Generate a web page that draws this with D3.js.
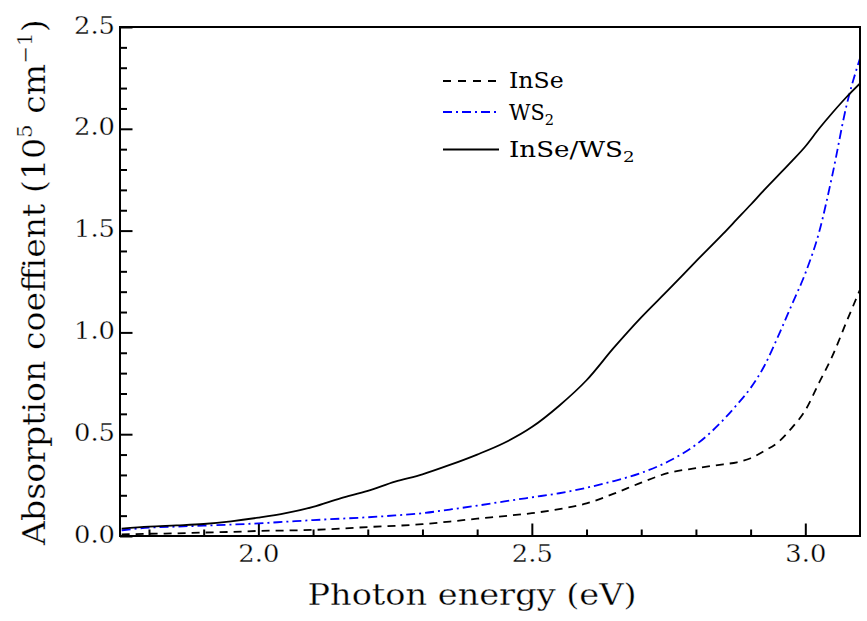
<!DOCTYPE html>
<html>
<head>
<meta charset="utf-8">
<script src="https://cdn.jsdelivr.net/npm/d3@7"></script>
<style>
  html, body { margin: 0; padding: 0; background: #fff; }
  text { font-family: "DejaVu Serif", serif; fill: #000; }
  text.thin { stroke: #fff; stroke-width: 0.3px; }
</style>
</head>
<body>
<svg id="chart" width="867" height="621"></svg>
<script>
// ---- data ----
const energy = [1.75, 1.80, 1.85, 1.90, 1.95, 2.00, 2.05, 2.10, 2.15, 2.20, 2.25, 2.30, 2.35, 2.40, 2.45, 2.50,
                2.55, 2.60, 2.65, 2.70, 2.75, 2.80, 2.85, 2.875, 2.90, 2.925, 2.95, 2.975, 3.00, 3.025, 3.05, 3.075, 3.10];
const inse   = [0.008, 0.011, 0.013, 0.017, 0.020, 0.025, 0.027, 0.030, 0.036, 0.044, 0.050, 0.058, 0.071, 0.085, 0.098, 0.112,
                0.132, 0.160, 0.208, 0.262, 0.310, 0.333, 0.352, 0.362, 0.382, 0.418, 0.460, 0.530, 0.617, 0.752, 0.887, 1.050, 1.210];
const ws2    = [0.028, 0.041, 0.046, 0.051, 0.056, 0.062, 0.070, 0.078, 0.085, 0.092, 0.101, 0.112, 0.130, 0.149, 0.170, 0.190,
                0.210, 0.237, 0.270, 0.310, 0.367, 0.448, 0.570, 0.645, 0.727, 0.835, 0.979, 1.134, 1.290, 1.490, 1.780, 2.110, 2.346];
const hetero = [0.036, 0.046, 0.052, 0.059, 0.072, 0.090, 0.112, 0.143, 0.185, 0.222, 0.267, 0.303, 0.349, 0.400, 0.458, 0.535,
                0.640, 0.765, 0.925, 1.074, 1.210, 1.349, 1.485, 1.556, 1.627, 1.700, 1.770, 1.840, 1.913, 2.000, 2.080, 2.155, 2.223];
const seriesNames = ["InSe", "WS2", "InSe/WS2"];
const xMajorTicks = [2.0, 2.5, 3.0];
const xMinorTicks = [1.8, 1.9, 2.1, 2.2, 2.3, 2.4, 2.6, 2.7, 2.8, 2.9];
const yMajorTicks = [0.0, 0.5, 1.0, 1.5, 2.0, 2.5];
const yMinorTicks = [0.1,0.2,0.3,0.4,0.6,0.7,0.8,0.9,1.1,1.2,1.3,1.4,1.6,1.7,1.8,1.9,2.1,2.2,2.3,2.4];
const xDomain = [1.747, 3.10];
const yDomain = [0, 2.5];

// ---- layout ----
const L = 120, T = 27, R = 860, B = 536;
const svg = d3.select("#chart");
svg.append("rect").attr("width", 867).attr("height", 621).attr("fill", "#fff");

const x = d3.scaleLinear().domain(xDomain).range([L, R]);
const y = d3.scaleLinear().domain(yDomain).range([B, T]);

svg.append("clipPath").attr("id", "clip").append("rect")
  .attr("x", L).attr("y", T).attr("width", R - L).attr("height", B - T);

// ---- axes ----
const xAxisMinor = d3.axisBottom(x).tickValues(xMinorTicks).tickSize(-6.5).tickFormat("");
const xAxisMajor = d3.axisBottom(x).tickValues(xMajorTicks).tickSize(-12.5).tickFormat(d3.format(".1f"));
const yAxisMinor = d3.axisLeft(y).tickValues(yMinorTicks).tickSize(-7).tickFormat("");
const yAxisMajor = d3.axisLeft(y).tickValues(yMajorTicks).tickSize(-12.5).tickFormat(d3.format(".1f"));

function styleAxis(g) {
  g.attr("font-family", null);
  g.select(".domain").remove();
  g.selectAll(".tick line").attr("stroke", "#000").attr("stroke-width", 2);
}
svg.append("g").attr("transform", `translate(0,${B})`).call(xAxisMinor).call(styleAxis);
const gx = svg.append("g").attr("transform", `translate(0,${B})`).call(xAxisMajor).call(styleAxis);
gx.selectAll(".tick text")
  .attr("class", "thin")
  .attr("y", 26).attr("dy", 0)
  .attr("font-size", 24)
  .attr("textLength", 41).attr("lengthAdjust", "spacingAndGlyphs")
  .attr("fill", "#000");
svg.append("g").attr("transform", `translate(${L},0)`).call(yAxisMinor).call(styleAxis);
const gy = svg.append("g").attr("transform", `translate(${L},0)`).call(yAxisMajor).call(styleAxis);
gy.selectAll(".tick text")
  .attr("class", "thin")
  .attr("x", -5).attr("dy", 6)
  .attr("font-size", 24)
  .attr("textLength", 41).attr("lengthAdjust", "spacingAndGlyphs")
  .attr("fill", "#000");

// ---- curves ----
const styles = [
  { data: inse,   color: "#000",    dash: "8,6" },
  { data: ws2,    color: "#0000ff", dash: "9,4,2,4" },
  { data: hetero, color: "#000",    dash: null }
];
const line = d3.line().x(d => x(d[0])).y(d => y(d[1])).curve(d3.curveMonotoneX);
const plot = svg.append("g").attr("clip-path", "url(#clip)");
styles.forEach(s => {
  plot.append("path")
    .datum(energy.map((e, i) => [e, s.data[i]]))
    .attr("d", line)
    .attr("fill", "none")
    .attr("stroke", s.color)
    .attr("stroke-width", 1.8)
    .attr("stroke-dasharray", s.dash);
});

// frame
svg.append("rect").attr("x", L).attr("y", T).attr("width", R - L).attr("height", B - T)
  .attr("fill", "none").attr("stroke", "#000").attr("stroke-width", 2);

function fitWidth(g, target) {
  const w = g.node().getBBox().width;
  return w > 0 ? target / w : 1;
}

// ---- legend ----
const legendRows = [
  { name: "InSe", sub: null, yLine: 81, yText: 87.5, width: 54.7 },
  { name: "WS", sub: "2", yLine: 112, yText: 120, width: 45 },
  { name: "InSe/WS", sub: "2", yLine: 149.5, yText: 157, width: 125.7 }
];
legendRows.forEach((r, i) => {
  svg.append("line")
    .attr("x1", 443).attr("x2", 499).attr("y1", r.yLine).attr("y2", r.yLine)
    .attr("stroke", styles[i].color).attr("stroke-width", 1.8)
    .attr("stroke-dasharray", i === 0 ? "8,7" : (i === 1 ? "9,4,2,4" : null));
  const g = svg.append("g");
  const t = g.append("text").attr("x", 0).attr("y", 0).attr("font-size", 21.5);
  t.append("tspan").text(r.name);
  if (r.sub) t.append("tspan").attr("font-size", 15).attr("dy", 5).text(r.sub);
  const s = fitWidth(g, r.width);
  g.attr("transform", `translate(509,${r.yText}) scale(${s},1)`);
});

// ---- axis titles ----
svg.append("text")
  .attr("class", "thin")
  .attr("x", 472).attr("y", 605)
  .attr("text-anchor", "middle")
  .attr("font-size", 30)
  .attr("textLength", 329).attr("lengthAdjust", "spacingAndGlyphs")
  .text("Photon energy (eV)");

const gyt = svg.append("g");
const yt = gyt.append("text").attr("class", "thin").attr("x", 0).attr("y", 0).attr("font-size", 31);
yt.append("tspan").text("Absorption coeffient (10");
yt.append("tspan").attr("font-size", 20).attr("dy", -13).text("5");
yt.append("tspan").attr("dy", 13).text(" cm");
yt.append("tspan").attr("font-size", 20).attr("dy", -13).text("\u22121");
yt.append("tspan").attr("dy", 13).text(")");
const sy = fitWidth(gyt, 527);
gyt.attr("transform", `translate(45,545) rotate(-90) scale(${sy},1)`);
</script>
</body>
</html>
